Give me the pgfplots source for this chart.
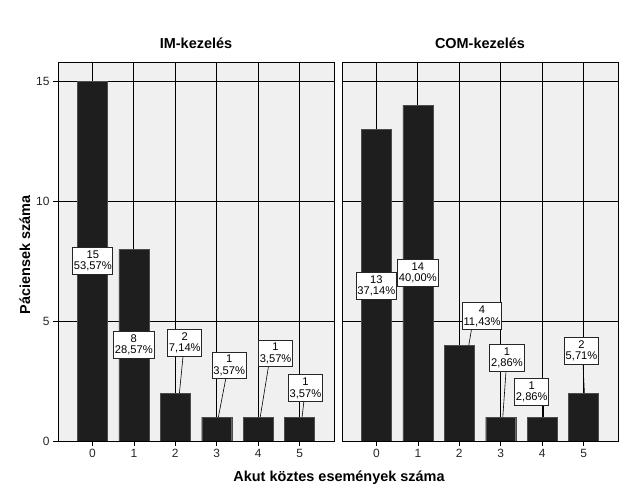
\documentclass[border=0pt]{standalone}
\usepackage{fontspec}
\setmainfont{Liberation Sans}
\usepackage{pgfplots}
\pgfplotsset{compat=1.18}
\definecolor{panelbg}{HTML}{F0F0F0}
\definecolor{barfill}{HTML}{1E1E1E}

\pgfplotsset{
  panel/.style={
    scale only axis, width=276bp, height=379bp,
    xmin=-0.83, xmax=5.83, ymin=0, ymax=15.8,
    axis background/.style={fill=panelbg},
    xtick={0,...,5}, ytick={0,5,10,15},
    grid=major, major grid style={black, line width=0.7pt},
    axis line style={black, line width=0.8pt},
    tick align=outside, tick pos=left, major tick length=5bp,
    tick style={black, line width=0.6pt},
    ticklabel style={font=\fontsize{12}{13}\selectfont, text=black!85},
    /pgf/number format/assume math mode=true,
    title style={font=\bfseries\fontsize{14.5}{16}\selectfont, at={(0.5,1)}, anchor=south, yshift=4bp},
    ybar, bar width=30bp, bar shift=0pt,
  },
}
\tikzset{
  lbl/.style={draw=black!85, fill=white, line width=0.9pt, align=center,
    inner xsep=1.2bp, inner ysep=3.2bp, font=\fontsize{11.2}{11.5}\selectfont},
  conn/.style={black, line width=0.6pt},
}

\begin{document}
\begin{tikzpicture}
\path[use as bounding box] (0,0) rectangle (625bp,500bp);

% IM-kezeles
\begin{axis}[panel, at={(58bp,59bp)}, anchor=south west, title={IM-kezelés}]
\addplot[fill=barfill, draw=black!70] coordinates {(0,15) (1,8) (2,2) (3,1) (4,1) (5,1)};
\draw[conn] (axis cs:2.22,4.1) -- (axis cs:2.1,2);
\draw[conn] (axis cs:3.28,3.15) -- (axis cs:3.04,1);
\draw[conn] (axis cs:4.3,3.65) -- (axis cs:4.05,1);
\draw[conn] (axis cs:5.14,2.2) -- (axis cs:5.06,1);
\node[lbl] at (axis cs:0.01,7.5) {15\\53,57\%};
\node[lbl] at (axis cs:1.0,4.0) {8\\28,57\%};
\node[lbl] at (axis cs:2.23,4.1) {2\\7,14\%};
\node[lbl] at (axis cs:3.30,3.15) {1\\3,57\%};
\node[lbl] at (axis cs:4.42,3.65) {1\\3,57\%};
\node[lbl] at (axis cs:5.14,2.2) {1\\3,57\%};
\end{axis}

% COM-kezeles
\begin{axis}[panel, at={(342bp,59bp)}, anchor=south west, title={COM-kezelés},
  yticklabels={}, y tick style={draw=none}]
\addplot[fill=barfill, draw=black!70] coordinates {(0,13) (1,14) (2,4) (3,1) (4,1) (5,2)};
\draw[conn] (axis cs:2.35,5.2) -- (axis cs:2.23,4);
\draw[conn] (axis cs:3.15,3.46) -- (axis cs:3.05,1);
\draw[conn] (axis cs:4.02,2.04) -- (axis cs:4.02,1);
\draw[conn] (axis cs:4.97,3.77) -- (axis cs:5.02,2);
\node[lbl] at (axis cs:0,6.48) {13\\37,14\%};
\node[lbl] at (axis cs:1.0,7.0) {14\\40,00\%};
\node[lbl] at (axis cs:2.55,5.2) {4\\11,43\%};
\node[lbl] at (axis cs:3.15,3.46) {1\\2,86\%};
\node[lbl] at (axis cs:3.75,2.04) {1\\2,86\%};
\node[lbl] at (axis cs:4.95,3.77) {2\\5,71\%};
\end{axis}

\node[font=\bfseries\fontsize{14.5}{16}\selectfont] at (339bp,22bp) {Akut köztes események száma};
\node[font=\bfseries\fontsize{14.5}{16}\selectfont, rotate=90] at (25bp,245bp) {Páciensek száma};
\end{tikzpicture}
\end{document}
